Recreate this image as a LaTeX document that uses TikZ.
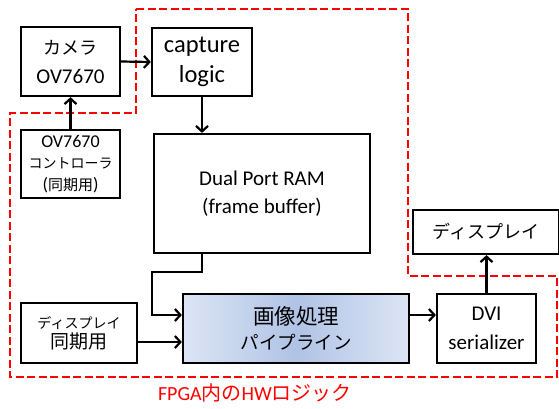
\documentclass[tikz,border=0pt]{standalone}
\usepackage{fontspec}
\setmainfont{Carlito}
\newfontfamily\jp{Noto Sans CJK JP}
\usetikzlibrary{arrows.meta}
\definecolor{pipeedge}{HTML}{DCE5F4}
\definecolor{pipemid}{HTML}{B0C3E6}
\begin{document}
\begin{tikzpicture}[x=1pt,y=-1pt,
  box/.style={draw,line width=2.2pt,rectangle,inner sep=0pt,align=center},
  arr/.style={line width=2.2pt,-{Straight Barb[length=5.5pt,width=12pt]}},
  fpga/.style={red,line width=2.5pt,dash pattern=on 8pt off 3.5pt}]
\useasboundingbox (0,0) rectangle (559,408);
\draw[fpga] (136,9) -- (408,9) -- (408,276) -- (557,276) -- (557,377) -- (10,377) -- (10,113) -- (136,113) -- cycle;

\node[box,minimum width=99pt,minimum height=69pt,font=\fontsize{21}{29}\selectfont] (cam) at (70.5,61.5)
  {{\jp\fontsize{18}{29}\selectfont カメラ}\\OV7670};
\node[box,minimum width=100pt,minimum height=68pt,font=\fontsize{24.5}{30}\selectfont] (cap) at (202,62)
  {capture\\logic};
\node[box,minimum width=99pt,minimum height=68pt,font=\fontsize{18}{21.5}\selectfont] (ctrl) at (70.5,164)
  {OV7670\\{\jp\fontsize{14}{21}\selectfont コントローラ}\\({\jp\fontsize{15}{21}\selectfont 同期用})};
\node[box,minimum width=216pt,minimum height=119pt,font=\fontsize{21}{28}\selectfont] (ram) at (262,193.5)
  {Dual Port RAM\\(frame buffer)};
\node[box,minimum width=116pt,minimum height=60pt,font=\fontsize{14}{20}\selectfont] (sync) at (79,333)
  {{\jp ディスプレイ}\\{\jp\fontsize{19}{20}\selectfont 同期用}};
\node[box,minimum width=226pt,minimum height=69pt,left color=pipeedge,right color=pipeedge,middle color=pipemid,
  font=\fontsize{20}{25}\selectfont] (pipe) at (296,328.5)
  {{\jp\fontsize{21.5}{25}\selectfont 画像処理}\\{\jp\fontsize{18.5}{25}\selectfont パイプライン}};
\node[box,minimum width=99pt,minimum height=69pt,font=\fontsize{21}{29}\selectfont] (dvi) at (486.5,328.5)
  {DVI\\serializer};
\node[box,minimum width=146pt,minimum height=44pt,font=\jp\fontsize{18}{22}\selectfont] (disp) at (486,232)
  {ディスプレイ};

\node[red,font=\fontsize{20}{24}\selectfont,inner sep=0pt] (lbl) at (255,393) {FPGA{\jp 内の}HW{\jp ロジック}};

\coordinate (j1) at (152,272);
\draw[arr] (cam.east) -- (cap.west);
\draw[arr] (ctrl.north) -- (cam.south);
\draw[arr] (cap.south) -- (cap.south |- ram.north);
\draw[arr] (cap.south |- ram.south) |- (j1) |- ([yshift=13.5pt]pipe.west);
\draw[arr] ([yshift=-9pt]sync.east) -- ([yshift=-13.5pt]pipe.west);
\draw[arr] ([yshift=13.5pt]pipe.east) -- ([yshift=13.5pt]dvi.west);
\draw[arr] (dvi.north) -- (dvi.north |- disp.south);
\end{tikzpicture}
\end{document}
